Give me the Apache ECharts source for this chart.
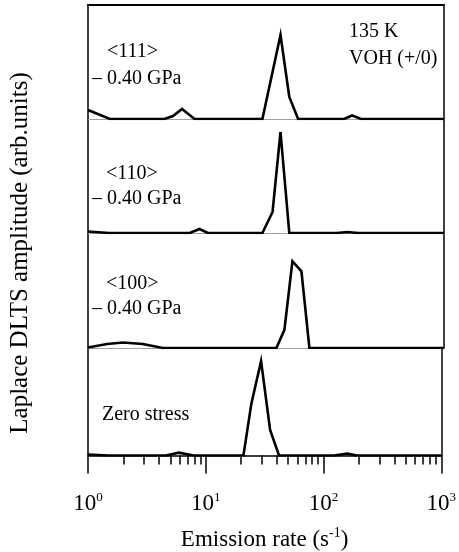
<!DOCTYPE html>
<html>
<head>
<meta charset="utf-8">
<script src="https://cdn.jsdelivr.net/npm/echarts@6/dist/echarts.min.js"></script>
<style>
  html, body { margin: 0; padding: 0; background: #fff; }
  #main { width: 459px; height: 552px; }
</style>
</head>
<body>
<div id="main"></div>
<script>
// emission rate (s^-1) and amplitude (arb. units) for each panel, top to bottom
var rate111 = [1, 1.53, 4.4, 5.2, 6.2, 7.9, 29.5, 41.9, 49.7, 59, 144, 168, 200, 1000];
var amp111  = [9, 0, 0, 3, 10, 0, 0, 84, 22, 0, 0, 3.5, 0, 0];

var rate110 = [1, 1.5, 7.2, 8.7, 10.2, 29.5, 35.9, 41.9, 49.7, 125, 153, 190, 1000];
var amp110  = [1.5, 0, 0, 4, 0, 0, 21, 101, 0, 0, 1, 0, 0];

var rate100 = [1, 1.45, 1.97, 2.9, 4.27, 38.7, 45.2, 52.8, 62.9, 73.4, 1000];
var amp100  = [0.5, 4, 5.5, 4, 0, 0, 18, 86, 76, 0, 0];

var rate0 = [1, 1.5, 4.6, 5.9, 7.9, 20.9, 24.4, 29.5, 35.2, 41.9, 123, 159, 193, 1000];
var amp0  = [1, 0, 0, 3, 0, 0, 55, 100, 27, 0, 0, 2, 0, 0];

var majorTicks = [0, 1, 2, 3];          // log10 of 10^0 .. 10^3
var tickLabels = ['0', '1', '2', '3'];  // exponents shown on the axis

var rates = [rate111, rate110, rate100, rate0];
var amps = [amp111, amp110, amp100, amp0];

// minor ticks at 2..9 x 10^n, in log10 units
var minorTicks = [];
for (var d = 0; d < 3; d++) {
    for (var k = 2; k < 10; k++) minorTicks.push(d + Math.log10(k));
}

var FONT = 'Liberation Serif';
var LEFT = 88, RIGHT = 15;
var tops = [5, 119, 233, 348];
var heights = [114, 114, 115, 114];
var YMAX = 114;

var grids = [], xAxes = [], yAxes = [], series = [];

for (var i = 0; i < 4; i++) {
    grids.push({left: LEFT, right: RIGHT, top: tops[i], height: heights[i]});
    var last = i === 3;
    xAxes.push({
        type: 'log', gridIndex: i, min: 1, max: 1000, logBase: 10,
        axisLine: {show: true, onZero: false, lineStyle: {color: last ? '#000' : '#a0a0a0', width: last ? 1.5 : 1}},
        axisTick: {show: false}, axisLabel: {show: false}, splitLine: {show: false}
    });
    yAxes.push({
        type: 'value', gridIndex: i, min: 0, max: YMAX, position: 'left',
        axisLine: {show: true, onZero: false, lineStyle: {color: '#000', width: 1.5}},
        axisTick: {show: false}, axisLabel: {show: false}, splitLine: {show: false}
    });
    yAxes.push({
        type: 'value', gridIndex: i, min: 0, max: YMAX, position: 'right',
        axisLine: {show: true, onZero: false, lineStyle: {color: '#000', width: 1.5}},
        axisTick: {show: false}, axisLabel: {show: false}, splitLine: {show: false}
    });
    var pts = [];
    for (var j = 0; j < rates[i].length; j++) pts.push([rates[i][j], amps[i][j]]);
    series.push({
        type: 'line', xAxisIndex: i, yAxisIndex: i * 2, data: pts,
        symbol: 'none', silent: true,
        lineStyle: {color: '#000', width: 2.6, join: 'miter'}
    });
}

// top border of the frame
xAxes.push({
    type: 'value', gridIndex: 0, min: 0, max: 3, position: 'top',
    axisLine: {show: true, onZero: false, lineStyle: {color: '#000', width: 2}},
    axisTick: {show: false}, axisLabel: {show: false}, splitLine: {show: false}
});
// major ticks + labels on the bottom panel
xAxes.push({
    type: 'value', gridIndex: 3, min: 0, max: 3, position: 'bottom',
    axisLine: {show: false, onZero: false},
    axisTick: {show: true, inside: false, length: 18, customValues: majorTicks,
        lineStyle: {color: '#000', width: 1.5}},
    axisLabel: {
        show: true, margin: 36, customValues: majorTicks,
        formatter: function (v) { return '{b|10}{s|' + tickLabels[Math.round(v)] + '}'; },
        rich: {
            b: {fontFamily: FONT, fontSize: 23, color: '#000'},
            s: {fontFamily: FONT, fontSize: 13, color: '#000', padding: [0, 0, 11, 0]}
        }
    },
    splitLine: {show: false},
    name: 'Emission rate (s{s|-1})', nameLocation: 'middle', nameGap: 71,
    nameTextStyle: {
        fontFamily: FONT, fontSize: 23, color: '#000',
        rich: {s: {fontFamily: FONT, fontSize: 14, color: '#000', padding: [0, 0, 12, 0]}}
    }
});
// minor ticks
xAxes.push({
    type: 'value', gridIndex: 3, min: 0, max: 3, position: 'bottom',
    axisLine: {show: false, onZero: false},
    axisTick: {show: true, inside: false, length: 9, customValues: minorTicks,
        lineStyle: {color: '#000', width: 1.5}},
    axisLabel: {show: false}, splitLine: {show: false}
});

function txt(x, y, s) {
    return {type: 'text', left: x, top: y, silent: true,
        style: {text: s, font: '20px "Liberation Serif"', fill: '#000', textVerticalAlign: 'middle'}};
}

var option = {
    animation: false,
    backgroundColor: '#fff',
    grid: grids,
    xAxis: xAxes,
    yAxis: yAxes,
    series: series,
    graphic: [
        txt(107, 42, '<111>'), txt(92, 69, '– 0.40 GPa'),
        txt(349, 22, '135 K'), txt(349, 49, 'VOH (+/0)'),
        txt(106, 164, '<110>'), txt(92, 189, '– 0.40 GPa'),
        txt(106, 274, '<100>'), txt(92, 299, '– 0.40 GPa'),
        txt(102, 405, 'Zero stress'),
        {
            type: 'text', x: 20, y: 253, rotation: Math.PI / 2, silent: true,
            style: {text: 'Laplace DLTS amplitude (arb.units)', font: '25px "Liberation Serif"',
                fill: '#000', align: 'center', verticalAlign: 'middle'}
        }
    ]
};

var chart = echarts.init(document.getElementById('main'));
chart.setOption(option);
</script>
</body>
</html>
